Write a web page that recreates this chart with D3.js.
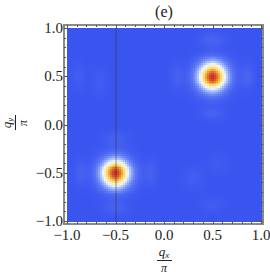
<!DOCTYPE html>
<html>
<head>
<meta charset="utf-8">
<script src="https://cdn.jsdelivr.net/npm/d3@7"></script>
<style>
  body { margin: 0; background: #fff; }
  svg { display: block; }
  text { font-family: "Liberation Serif", "Times New Roman", "DejaVu Serif", serif; fill: #222; }
</style>
</head>
<body>
<div id="chart"></div>
<script>
// main peaks of the structure factor (in units of pi)
var peakQx = [0.5, -0.5];
var peakQy = [0.5, -0.5];
var peakHeight = [1.0, 1.0];
var peakWidth = [0.103, 0.103];

// faint side lobes / ghost spots in the background
var lobeQx = [0.5, 0.5, 0.14, 0.86, -0.5, -0.5, -0.86, -0.14, -0.88, -0.66, 0.31, 0.56, 0.5];
var lobeQy = [0.88, 0.12, 0.5, 0.5, -0.14, -0.86, -0.5, -0.5, 0.5, 0.44, -0.55, -0.4, -0.83];
var lobeHeight = [0.06, 0.05, 0.05, 0.06, 0.05, 0.05, 0.05, 0.05, 0.035, 0.03, 0.035, 0.03, 0.03];
var lobeSx = [0.09, 0.09, 0.05, 0.05, 0.09, 0.09, 0.05, 0.05, 0.05, 0.05, 0.07, 0.07, 0.08];
var lobeSy = [0.05, 0.05, 0.09, 0.09, 0.05, 0.05, 0.09, 0.09, 0.09, 0.09, 0.07, 0.07, 0.05];

// vertical guide line
var guideQx = [-0.5];

// ticks
var tickValues = [-1, -0.5, 0, 0.5, 1];
var tickLabels = ["\u22121.0", "\u22120.5", "0.0", "0.5", "1.0"];
var minorValues = d3.range(-10, 11).map(function(i) { return i / 10; });

var title = "(e)";

// colour map (TemperatureMap-like)
var colorStops = [0, 0.15, 0.3, 0.45, 0.58, 0.7, 0.82, 0.92, 1];
var colorList = ["#3a54f0", "#5f7df5", "#a0b9fa", "#f0f2fa", "#faf0aa", "#f5d25a", "#eb9637", "#dc5a28", "#c82d23"];

var W = 270, H = 275;
var svg = d3.select("#chart").append("svg")
  .attr("width", W)
  .attr("height", H);

var x = d3.scaleLinear().domain([-1, 1]).range([67, 261]);
var y = d3.scaleLinear().domain([-1, 1]).range([221, 28]);
var color = d3.scaleLinear().domain(colorStops).range(colorList).clamp(true);

// build the grid of cells
var step = 0.02;
var centers = d3.range(100).map(function(i) { return -1 + step / 2 + i * step; });
var cells = [];
centers.forEach(function(qy) {
  centers.forEach(function(qx) {
    var v = 0;
    for (var k = 0; k < peakQx.length; k++) {
      var dx = qx - peakQx[k], dy = qy - peakQy[k];
      v += peakHeight[k] * Math.exp(-(dx * dx + dy * dy) / (2 * peakWidth[k] * peakWidth[k]));
    }
    for (var j = 0; j < lobeQx.length; j++) {
      var ex = (qx - lobeQx[j]) / lobeSx[j], ey = (qy - lobeQy[j]) / lobeSy[j];
      v += lobeHeight[j] * Math.exp(-(ex * ex + ey * ey) / 2);
    }
    cells.push({qx: qx, qy: qy, v: v});
  });
});

svg.append("g")
  .attr("shape-rendering", "crispEdges")
  .selectAll("rect")
  .data(cells)
  .enter().append("rect")
    .attr("x", function(d) { return x(d.qx - step / 2); })
    .attr("y", function(d) { return y(d.qy + step / 2); })
    .attr("width", x(step) - x(0) + 0.5)
    .attr("height", y(0) - y(step) + 0.5)
    .attr("fill", function(d) { return color(d.v); });

// vertical guide line
svg.selectAll(".guide")
  .data(guideQx)
  .enter().append("line")
    .attr("class", "guide")
    .attr("x1", function(d) { return x(d) + 0.5; })
    .attr("x2", function(d) { return x(d) + 0.5; })
    .attr("y1", y(1))
    .attr("y2", y(-1))
    .attr("stroke", "#333")
    .attr("stroke-opacity", 0.55)
    .attr("stroke-width", 1);

// frame
var fx0 = 64, fx1 = 263, fy0 = 25, fy1 = 224;
svg.append("rect")
  .attr("x", fx0)
  .attr("y", fy0)
  .attr("width", fx1 - fx0)
  .attr("height", fy1 - fy0)
  .attr("fill", "none")
  .attr("stroke", "#8a8a8a")
  .attr("stroke-width", 2);

// frame ticks on all sides (inward)
var tk = svg.append("g").attr("stroke", "#555").attr("stroke-width", 1);
function drawTicks(vals, len) {
  vals.forEach(function(v) {
    var px = Math.round(x(v)) + 0.5, py = Math.round(y(v)) + 0.5;
    tk.append("line").attr("x1", px).attr("x2", px).attr("y1", fy1).attr("y2", fy1 - len);
    tk.append("line").attr("x1", px).attr("x2", px).attr("y1", fy0).attr("y2", fy0 + len);
    tk.append("line").attr("y1", py).attr("y2", py).attr("x1", fx0).attr("x2", fx0 + len);
    tk.append("line").attr("y1", py).attr("y2", py).attr("x1", fx1).attr("x2", fx1 - len);
  });
}
drawTicks(minorValues, 2);
drawTicks(tickValues, 4);

// tick labels
svg.append("g").selectAll("text")
  .data(tickValues)
  .enter().append("text")
    .attr("x", function(d) { return x(d); })
    .attr("y", 240)
    .attr("text-anchor", "middle")
    .style("font-size", "15px")
    .text(function(d, i) { return tickLabels[i]; });

svg.append("g").selectAll("text")
  .data(tickValues)
  .enter().append("text")
    .attr("x", 63)
    .attr("y", function(d) { return y(d) + 5; })
    .attr("text-anchor", "end")
    .style("font-size", "15px")
    .text(function(d, i) { return tickLabels[i]; });

// title
svg.append("text")
  .attr("x", 164)
  .attr("y", 17)
  .attr("text-anchor", "middle")
  .style("font-size", "16px")
  .text(title);

// axis label as a fraction q/pi
function fraction(g, sub) {
  var num = g.append("text")
    .attr("x", 0)
    .attr("y", -4)
    .attr("text-anchor", "middle")
    .style("font-size", "13px")
    .style("font-style", "italic");
  num.append("tspan").text("q");
  num.append("tspan").attr("dy", 2).style("font-size", "9px").text(sub);
  g.append("line")
    .attr("x1", -7).attr("x2", 8)
    .attr("y1", 0.5).attr("y2", 0.5)
    .attr("stroke", "#222")
    .attr("stroke-width", 1);
  g.append("text")
    .attr("x", 0)
    .attr("y", 12)
    .attr("text-anchor", "middle")
    .style("font-size", "12px")
    .style("font-style", "italic")
    .text("\u03c0");
}

fraction(svg.append("g").attr("transform", "translate(164,260)"), "x");
fraction(svg.append("g").attr("transform", "translate(15,123) rotate(-90)"), "y");
</script>
</body>
</html>
